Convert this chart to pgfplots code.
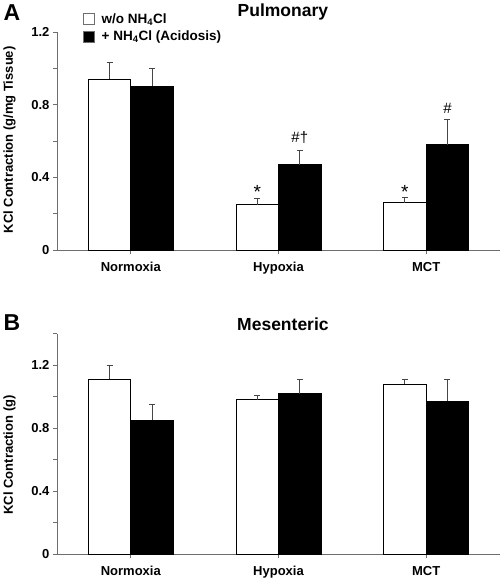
\documentclass[border=0pt]{standalone}
\usepackage{fontspec}
\setmainfont{Liberation Sans}
\usepackage{pgfplots}
\pgfplotsset{compat=1.18}
\definecolor{axgray}{RGB}{110,110,110}
\definecolor{errgray}{RGB}{70,70,70}
\pgfplotsset{
 kcl/.style={
  scale only axis, width=443pt,
  xmin=-0.5, xmax=2.5, ymin=0,
  axis x line*=bottom, axis y line*=left,
  axis line style={draw=axgray, line width=0.8pt, -},
  xtick={0,1,2}, xticklabels={Normoxia,Hypoxia,MCT},
  x tick label style={font=\fontsize{13}{13}\selectfont\bfseries, yshift=-5pt},
  y tick label style={font=\fontsize{13}{13}\selectfont\bfseries},
  /pgf/number format/assume math mode=true,
  tick align=outside,
  major tick length=4pt, minor tick length=4pt,
  tick style={axgray, line width=0.8pt},
  ybar, bar width=42.5pt,
  ylabel style={font=\fontsize{13}{13}\selectfont\bfseries},
  error bars/y dir=plus, error bars/y explicit,
  error bars/error bar style={errgray, line width=0.9pt},
  error bars/error mark options={errgray, line width=0.9pt, mark size=3pt, rotate=90},
 },
 wbar/.style={fill=white, draw=black, line width=0.8pt, bar shift=-21.25pt},
 bbar/.style={fill=black, draw=black, line width=0.8pt, bar shift=21.25pt},
}
\begin{document}
\begin{tikzpicture}
\path[use as bounding box] (0,0) rectangle (502pt,-580pt);
% Panel A
\begin{axis}[kcl, height=218pt, ymax=1.2,
  at={(57pt,-250pt)}, anchor=south west,
  ytick={0,0.4,0.8,1.2}, yticklabels={0,0.4,0.8,1.2},
  minor ytick={0.2,0.6,1.0},
  ylabel={KCl Contraction (g/mg Tissue)},
  ylabel style={at={(axis description cs:-0.107,0.505)}, anchor=center},
  legend style={at={(rel axis cs:0.058,1.095)}, anchor=north west, draw=none, fill=none,
    font=\fontsize{13.5}{13.5}\selectfont\bfseries, row sep=2pt, column sep=5pt,
    cells={anchor=west}, inner sep=0pt},
  legend image code/.code={\draw[#1, line width=0.8pt, draw=axgray] (0pt,-5.5pt) rectangle (11pt,5.5pt);},
  clip=false,
]
\addplot[wbar] coordinates {(0,0.94) +- (0,0.095) (1,0.25) +- (0,0.035) (2,0.26) +- (0,0.03)};
\addlegendentry{w/o NH\textsubscript{4}Cl}
\addplot[bbar] coordinates {(0,0.90) +- (0,0.10) (1,0.47) +- (0,0.08) (2,0.58) +- (0,0.14)};
\addlegendentry{+ NH\textsubscript{4}Cl (Acidosis)}
\node[font=\fontsize{19}{19}\selectfont] at (axis cs:0.856,0.32) {*};
\node[font=\fontsize{15}{15}\selectfont] at (axis cs:1.144,0.62) {\#\dag};
\node[font=\fontsize{19}{19}\selectfont] at (axis cs:1.856,0.32) {*};
\node[font=\fontsize{15}{15}\selectfont] at (axis cs:2.144,0.78) {\#};
\node[font=\fontsize{17.5}{17.5}\selectfont\bfseries, anchor=center] at (rel axis cs:0.51,1.092) {Pulmonary};
\end{axis}
% Panel B
\begin{axis}[kcl, height=220.3pt, ymax=1.4,
  at={(57pt,-554pt)}, anchor=south west,
  ytick={0,0.4,0.8,1.2}, yticklabels={0,0.4,0.8,1.2},
  minor ytick={0.2,0.6,1.0,1.4},
  ylabel={KCl Contraction (g)},
  ylabel style={at={(axis description cs:-0.107,0.45)}, anchor=center},
  clip=false,
]
\addplot[wbar] coordinates {(0,1.11) +- (0,0.09) (1,0.98) +- (0,0.03) (2,1.08) +- (0,0.03)};
\addplot[bbar] coordinates {(0,0.85) +- (0,0.10) (1,1.02) +- (0,0.09) (2,0.97) +- (0,0.14)};
\node[font=\fontsize{17.5}{17.5}\selectfont\bfseries, anchor=center] at (rel axis cs:0.51,1.044) {Mesenteric};
\end{axis}
\node[font=\fontsize{23}{23}\selectfont\bfseries] at (12pt,-13pt) {A};
\node[font=\fontsize{23}{23}\selectfont\bfseries] at (12pt,-323pt) {B};
\end{tikzpicture}
\end{document}
